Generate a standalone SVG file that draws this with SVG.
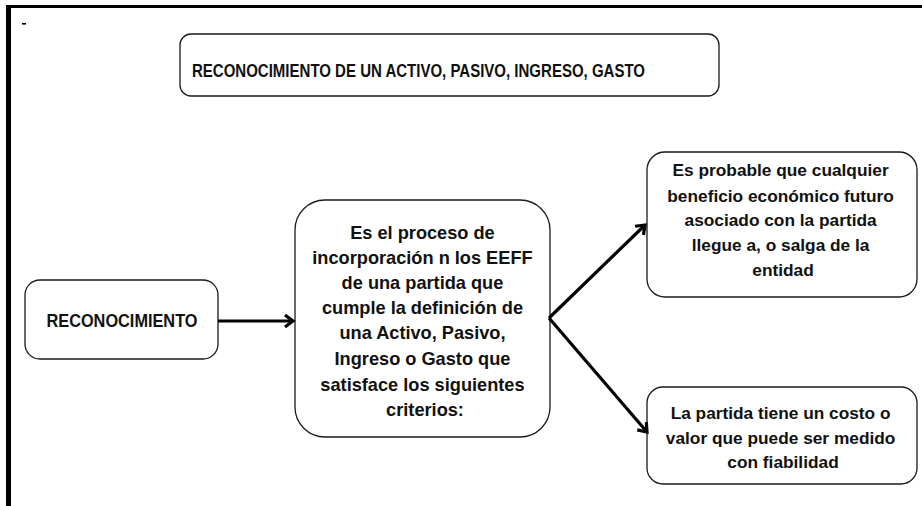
<svg xmlns="http://www.w3.org/2000/svg" width="922" height="506" viewBox="0 0 922 506">
<style>
.box{fill:#fff;stroke:#1a1a1a;stroke-width:1.3}
.t{font-family:"Liberation Sans",Arial,sans-serif;font-weight:bold;fill:#111;font-size:17px;text-anchor:middle}
.conn{fill:none;stroke:#000;stroke-width:3.2}
</style>
<defs>
<marker id="ah" markerUnits="userSpaceOnUse" markerWidth="16" markerHeight="16" refX="11" refY="8" orient="auto" viewBox="0 0 16 16">
<path d="M3,2 L11,8 L3,14" fill="none" stroke="#000" stroke-width="3.2" stroke-linejoin="miter"/>
</marker>
</defs>
<rect width="922" height="506" fill="#fff"/>
<g id="frame">
<rect x="6" y="5" width="916" height="3" fill="#000"/>
<rect x="6" y="5" width="5" height="501" fill="#000"/>
<rect x="22" y="23" width="4" height="1.6" fill="#000"/>
</g>
<g id="title">
<rect class="box" x="180" y="34" width="539" height="62" rx="11"/>
<text class="t" x="192" y="77" style="text-anchor:start;font-size:18px" textLength="453" lengthAdjust="spacingAndGlyphs">RECONOCIMIENTO DE UN ACTIVO, PASIVO, INGRESO, GASTO</text>
</g>
<g id="reconocimiento">
<rect class="box" x="25" y="280" width="193" height="79" rx="15"/>
<text class="t" x="122" y="327" style="font-size:17.5px" textLength="151" lengthAdjust="spacingAndGlyphs">RECONOCIMIENTO</text>
</g>
<g id="definicion">
<rect class="box" x="295" y="200" width="255" height="237" rx="30"/>
<text class="t" style="font-size:18.2px">
<tspan x="425" y="239">Es el proceso de</tspan>
<tspan x="425" y="264">incorporación n los EEFF</tspan>
<tspan x="425" y="289">de una partida que</tspan>
<tspan x="425" y="314">cumple la definición de</tspan>
<tspan x="425" y="339">una Activo, Pasivo,</tspan>
<tspan x="425" y="365">Ingreso o Gasto que</tspan>
<tspan x="425" y="391">satisface los siguientes</tspan>
<tspan x="425" y="416">criterios:</tspan>
</text>
</g>
<g id="criterio1">
<rect class="box" x="647" y="152" width="270" height="145" rx="18"/>
<text class="t" style="font-size:17.3px">
<tspan x="783" y="176">Es probable que cualquier</tspan>
<tspan x="783" y="202">beneficio económico futuro</tspan>
<tspan x="783" y="226">asociado con la partida</tspan>
<tspan x="783" y="251">llegue a, o salga de la</tspan>
<tspan x="783" y="276">entidad</tspan>
</text>
</g>
<g id="criterio2">
<rect class="box" x="647" y="387" width="270" height="97" rx="16"/>
<text class="t" style="font-size:17.3px">
<tspan x="783" y="419">La partida tiene un costo o</tspan>
<tspan x="783" y="444">valor que puede ser medido</tspan>
<tspan x="783" y="468">con fiabilidad</tspan>
</text>
</g>
<g id="connectors">
<path class="conn" d="M218,321 L293,321" marker-end="url(#ah)"/>
<path class="conn" d="M549,318 L645,225" marker-end="url(#ah)"/>
<path class="conn" d="M549,318 L647,432" marker-end="url(#ah)"/>
</g>
</svg>
